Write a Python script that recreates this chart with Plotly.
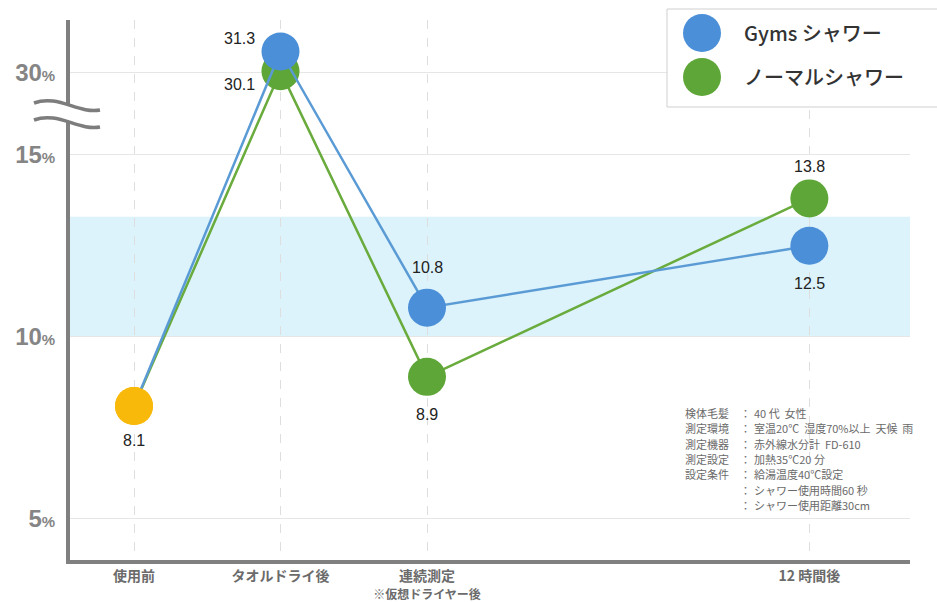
import plotly.graph_objects as go

# ---------------- data ----------------
categories = ["使用前", "タオルドライ後", "連続測定", "12 時間後"]
cat_sub = ["", "", "※仮想ドライヤー後", ""]
x_pos = [0, 1, 2, 4.61]
gyms = [8.1, 31.3, 10.8, 12.5]
normal = [8.1, 30.1, 8.9, 13.8]
series_names = ["Gyms シャワー", "ノーマルシャワー"]
y_ticks = [5, 10, 15, 30]
band = [10, 13.3]
note_labels = ["検体毛髪", "測定環境", "測定機器", "測定設定", "設定条件", "", ""]
note_values = ["40 代  女性", "室温20℃  湿度70%以上  天候  雨", "赤外線水分計  FD-610",
               "加熱35℃20 分", "給湯温度40℃設定", "シャワー使用時間60 秒", "シャワー使用距離30cm"]

# ---------------- broken axis scale ----------------
BREAK_AT = 17.25   # where 30% sits on the compressed part
K = 0.45


def brk(v):
    return v if v <= 15 else BREAK_AT + (v - 30) * K


BLUE = "#4a8fd8"
BLUE_L = "#5b9bd5"
GREEN = "#5ea637"
GREEN_L = "#69ab3c"
YELLOW = "#f8b90a"

PAGE_W, PAGE_H = 937, 602
# plot area in page pixels (for decoration placement)
L, R, T, B = 70, 910, 20, 560


def pxx(p):
    return (p - L) / (R - L)


def pxy(p):
    return (B - p) / (B - T)


fig = go.Figure()

fig.add_trace(go.Scatter(
    x=x_pos, y=[brk(v) for v in normal], mode="lines+markers", name=series_names[1],
    line=dict(color=GREEN_L, width=2.5),
    marker=dict(size=38, color=[YELLOW] + [GREEN] * 3, line=dict(width=0)),
    showlegend=False, cliponaxis=False))
fig.add_trace(go.Scatter(
    x=x_pos, y=[brk(v) for v in gyms], mode="lines+markers", name=series_names[0],
    line=dict(color=BLUE_L, width=2.5),
    marker=dict(size=38, color=[YELLOW] + [BLUE] * 3, line=dict(width=0)),
    showlegend=False, cliponaxis=False))

annotations = []
# value labels
gyms_off = [(0, -35), (-41, 13), (0, 40), (0, -38)]
normal_off = [None, (-41, -13), (0, -38), (0, 32)]
for xs, vals, offs in ((x_pos, gyms, gyms_off), (x_pos, normal, normal_off)):
    for xv, v, o in zip(xs, vals, offs):
        if o is None:
            continue
        annotations.append(dict(x=xv, y=brk(v), text=f"{v:.1f}", showarrow=False,
                                xshift=o[0], yshift=o[1],
                                font=dict(family="Liberation Sans, Arial", size=16, color="#222")))

# notes block
for i, (lab, val) in enumerate(zip(note_labels, note_values)):
    yy = pxy(413 + i * 15.3)
    nf = dict(family="Noto Sans CJK JP", size=11, color="#6a6a6a")
    if lab:
        annotations.append(dict(xref="paper", yref="paper", x=pxx(683), y=yy, text=lab,
                                showarrow=False, xanchor="left", yanchor="middle", font=nf))
    annotations.append(dict(xref="paper", yref="paper", x=pxx(738), y=yy, text="：",
                            showarrow=False, xanchor="left", yanchor="middle", font=nf))
    annotations.append(dict(xref="paper", yref="paper", x=pxx(752), y=yy, text=val,
                            showarrow=False, xanchor="left", yanchor="middle", font=nf))

# legend (manual, to get large circles)
legend_cols = [BLUE, GREEN]
for i, nm in enumerate(series_names):
    cy = 33 + i * 44
    annotations.append(dict(xref="paper", yref="paper", x=pxx(742), y=pxy(cy), text=nm,
                            showarrow=False, xanchor="left", yanchor="middle",
                            font=dict(family="Noto Sans CJK JP", size=20, color="#333", weight=500)))

shapes = [
    # light cyan band
    dict(type="rect", xref="paper", yref="y", x0=0, x1=1, y0=band[0], y1=band[1],
         fillcolor="#dcf3fb", line=dict(width=0), layer="below"),
    # legend box
    dict(type="rect", xref="paper", yref="paper", x0=pxx(667), x1=pxx(960),
         y0=pxy(107), y1=pxy(9), fillcolor="white", line=dict(color="#cfcfcf", width=1),
         layer="above"),
]
for i, c in enumerate(legend_cols):
    cy = 33 + i * 44
    shapes.append(dict(type="circle", xref="paper", yref="paper",
                       xsizemode="pixel", ysizemode="pixel",
                       xanchor=pxx(702), yanchor=pxy(cy),
                       x0=-19, x1=19, y0=-19, y1=19, fillcolor=c, line=dict(width=0),
                       layer="above"))


# axis break marks
def pt(x, y):
    return f"{pxx(x):.5f},{pxy(y):.5f}"


w1 = [(34, 103), (58, 94), (78, 114), (100, 110)]
w2 = [(34, 120), (58, 111), (78, 131), (100, 127)]
fill_path = ("M " + pt(*w1[0]) + " C " + pt(*w1[1]) + " " + pt(*w1[2]) + " " + pt(*w1[3]) +
             " L " + pt(*w2[3]) + " C " + pt(*w2[2]) + " " + pt(*w2[1]) + " " + pt(*w2[0]) + " Z")
shapes.append(dict(type="path", xref="paper", yref="paper", path=fill_path,
                   fillcolor="white", line=dict(width=0), layer="above"))
for w in (w1, w2):
    p = "M " + pt(*w[0]) + " C " + pt(*w[1]) + " " + pt(*w[2]) + " " + pt(*w[3])
    shapes.append(dict(type="path", xref="paper", yref="paper", path=p,
                       line=dict(color="#7d7d7d", width=3.5), layer="above"))

tick_text_x = []
for c, s in zip(categories, cat_sub):
    t = f"<b>{c}</b>"
    if s:
        t += f"<br><span style='font-size:12px'><b>{s}</b></span>"
    tick_text_x.append(t)

tick_text_y = [f"{v}<span style='font-size:15px'>%</span>" for v in y_ticks]

fig.update_layout(
    width=PAGE_W, height=PAGE_H,
    margin=dict(l=L, r=PAGE_W - R, t=T, b=PAGE_H - B, autoexpand=False),
    paper_bgcolor="white", plot_bgcolor="white",
    showlegend=False,
    shapes=shapes, annotations=annotations,
    xaxis=dict(range=[(L - 134) / 146.5, (R - 134) / 146.5], tickvals=x_pos, ticktext=tick_text_x,
               showgrid=True, gridcolor="#dedede", griddash="dash", gridwidth=1,
               showline=True, linecolor="#808080", linewidth=4, ticks="", zeroline=False,
               tickfont=dict(family="Noto Sans CJK JP", size=14, color="#6b6b6b")),
    yaxis=dict(range=[3.87, 18.7], tickvals=[brk(v) for v in y_ticks], ticktext=tick_text_y,
               showgrid=True, gridcolor="#e6e6e6", gridwidth=1,
               showline=True, linecolor="#808080", linewidth=4, ticks="", zeroline=False,
               ticklabelstandoff=6,
               tickfont=dict(family="Liberation Sans, Arial", size=24, color="#858585", weight="bold")),
)

# the page body has a default 8px margin; remove it so the figure fills the window exactly
fig.write_html("out.html", config={"displayModeBar": False},
               post_script="document.body.style.margin='0';document.body.style.overflow='hidden';")
